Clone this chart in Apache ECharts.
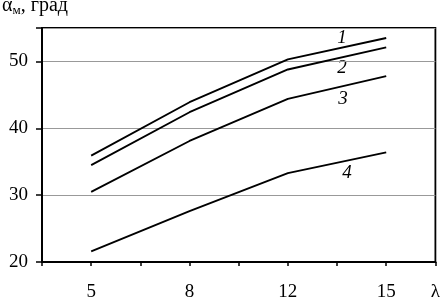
<!DOCTYPE html>
<html><head><meta charset="utf-8">
<script src="https://cdn.jsdelivr.net/npm/echarts@6/dist/echarts.min.js"></script>
<style>html,body{margin:0;padding:0;background:#fff}#c{width:443px;height:302px}</style>
</head><body><div id="c"></div>
<script>
const categories = ['5', '8', '12', '15'];
const curve1 = [35.9, 43.9, 50.3, 53.5];
const curve2 = [34.5, 42.4, 48.8, 52.1];
const curve3 = [30.5, 38.1, 44.4, 47.8];
const curve4 = [21.6, 27.6, 33.3, 36.4];
const seriesNames = ['1', '2', '3', '4'];
const yTicks = [20, 30, 40, 50];
const xName = 'λ';

// categories placed at odd positions of a 0..8 grid of ticks
const catPos = categories.map((c, i) => 2 * i + 1);
const toPts = arr => arr.map((v, i) => [catPos[i], v]);
const font = 'Liberation Serif';
const lblFont = 'italic 19px "Liberation Serif"';

const chart = echarts.init(document.getElementById('c'), null, {renderer: 'canvas'});
chart.setOption({
  animation: false,
  grid: {left: 42, right: 5, top: 28, bottom: 39, show: true, borderColor: '#000', borderWidth: 1.8},
  xAxis: {
    type: 'value', min: 0, max: 8, interval: 1,
    axisLine: {show: true, lineStyle: {color: '#000', width: 2}},
    axisTick: {show: true, length: 4, lineStyle: {color: '#000', width: 1.5}},
    splitLine: {show: false},
    axisLabel: {
      margin: 21, color: '#000', fontFamily: font, fontSize: 19,
      showMinLabel: true, showMaxLabel: true,
      formatter: v => { const k = catPos.indexOf(v); if (k >= 0) return categories[k]; if (v === 8) return xName; return ''; }
    }
  },
  yAxis: {
    type: 'value', min: 20, max: 55, interval: 10,
    axisLine: {show: true, lineStyle: {color: '#000', width: 2}},
    axisTick: {show: true, length: 6, lineStyle: {color: '#000', width: 1.5}},
    splitLine: {show: true, lineStyle: {color: '#999', width: 1}},
    axisLabel: {
      margin: 14, color: '#000', fontFamily: font, fontSize: 19,
      formatter: v => yTicks.includes(v) ? String(v) : ''
    }
  },
  series: [curve1, curve2, curve3, curve4].map((d, i) => ({
    type: 'line', name: seriesNames[i], data: toPts(d), symbol: 'none',
    lineStyle: {color: '#000', width: 1.9}
  })),
  graphic: [
    {type: 'text', left: 2, top: -4, style: {
      text: '{a|α}{s|м}{a|, град}', rich: {
        a: {fontFamily: font, fontSize: 20, fill: '#000'},
        s: {fontFamily: font, fontSize: 13, fill: '#000', verticalAlign: 'bottom', padding: [9, 0, 0, 0]}
      }}},
    {type: 'text', x: 342, y: 38, style: {text: seriesNames[0], font: lblFont, fill: '#000', align: 'center', verticalAlign: 'middle'}},
    {type: 'text', x: 342, y: 68, style: {text: seriesNames[1], font: lblFont, fill: '#000', align: 'center', verticalAlign: 'middle'}},
    {type: 'text', x: 343, y: 99, style: {text: seriesNames[2], font: lblFont, fill: '#000', align: 'center', verticalAlign: 'middle'}},
    {type: 'text', x: 347, y: 173, style: {text: seriesNames[3], font: lblFont, fill: '#000', align: 'center', verticalAlign: 'middle'}}
  ]
});
</script></body></html>
